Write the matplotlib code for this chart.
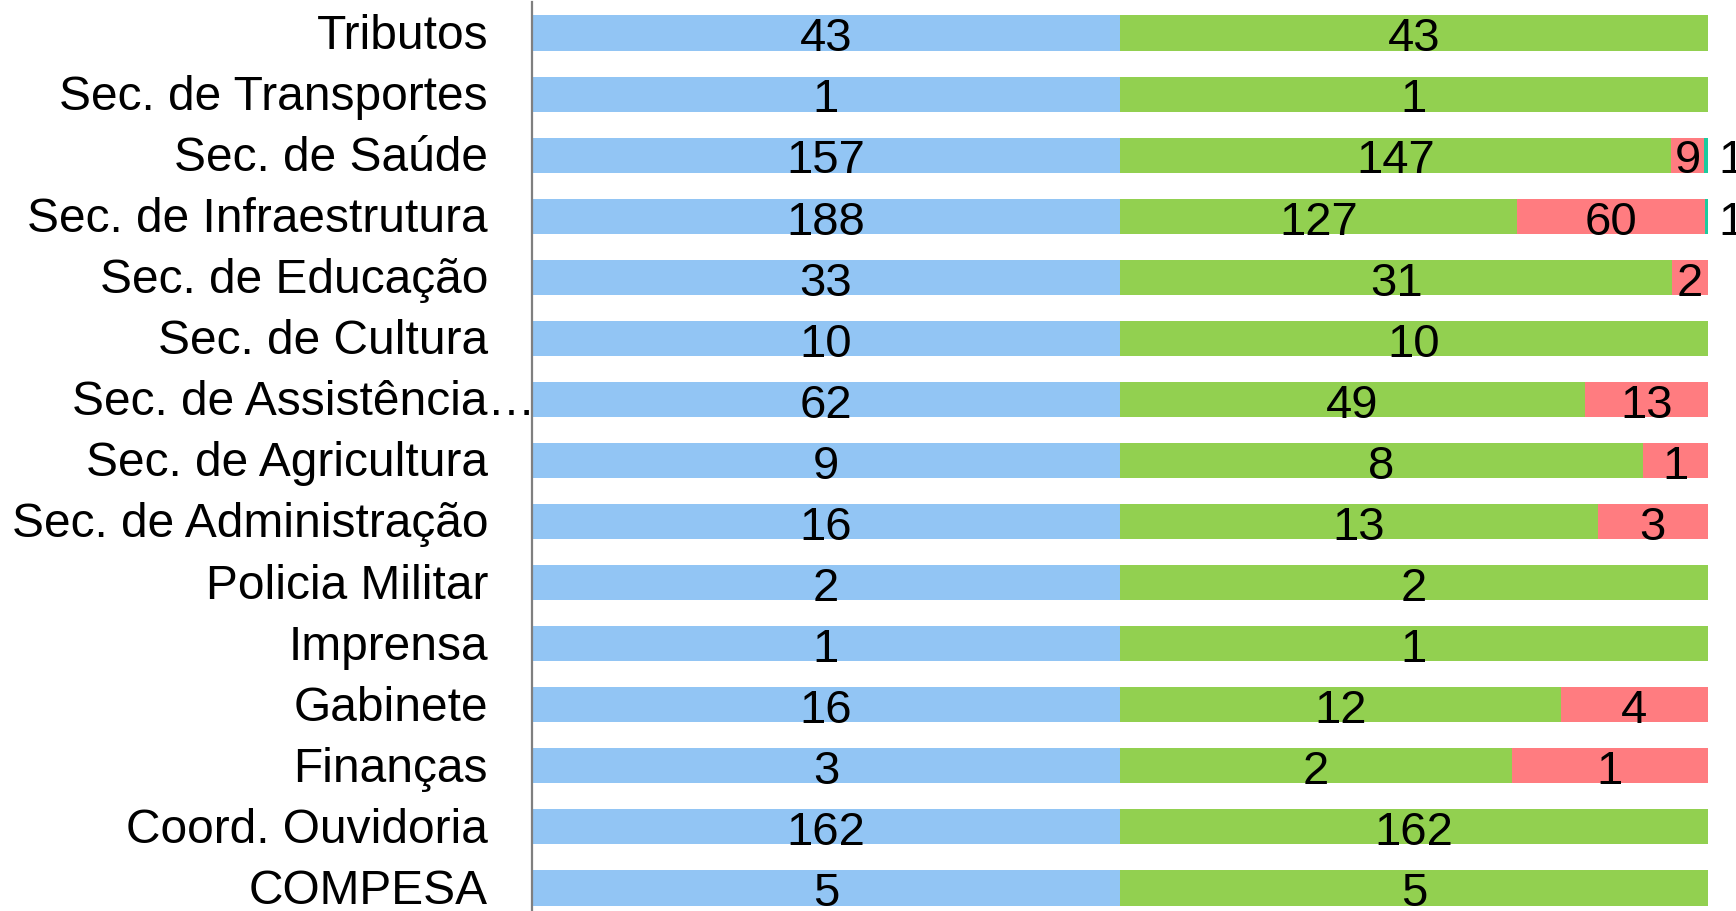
import matplotlib
matplotlib.use("Agg")
import matplotlib.pyplot as plt
import numpy as np

categories = ["Tributos", "Sec. de Transportes", "Sec. de Saúde", "Sec. de Infraestrutura",
              "Sec. de Educação", "Sec. de Cultura", "Sec. de Assistência…", "Sec. de Agricultura",
              "Sec. de Administração", "Policia Militar", "Imprensa", "Gabinete", "Finanças",
              "Coord. Ouvidoria", "COMPESA"]
total        = [43, 1, 157, 188, 33, 10, 62, 9, 16, 2, 1, 16, 3, 162, 5]
respondidas  = [43, 1, 147, 127, 31, 10, 49, 8, 13, 2, 1, 12, 2, 162, 5]
nao_resp     = [0, 0, 9, 60, 2, 0, 13, 1, 3, 0, 0, 4, 1, 0, 0]
outros       = [0, 0, 1, 1, 0, 0, 0, 0, 0, 0, 0, 0, 0, 0, 0]

colors = ["#92C5F4", "#92D050", "#FF7C80", "#1BCB9E"]
series = [total, respondidas, nao_resp, outros]

plt.rcParams['font.family'] = ['Liberation Sans', 'DejaVu Sans']

W, H = 1736, 911
fig = plt.figure(figsize=(W/100, H/100), dpi=100)
fig.patch.set_facecolor("white")
top = 1 - 2.5/H
hgt = 916/H
ax = fig.add_axes([532/W, top - hgt, 1176/W, hgt])
ax.set_facecolor("none")

n = len(categories)
y = np.arange(n)
arr = np.array(series, dtype=float)
sums = arr.sum(axis=0)
frac = arr / sums

left = np.zeros(n)
for k in range(4):
    ax.barh(y, frac[k], left=left, height=0.575, color=colors[k], linewidth=0)
    for i in range(n):
        v = series[k][i]
        if v == 0:
            continue
        if k == 3:
            xpos = left[i] + frac[k][i] + 10/1176
            ha = "left"
        else:
            xpos = left[i] + frac[k][i] / 2
            ha = "center"
        ax.text(xpos, y[i] + 0.30, str(v), ha=ha, va="baseline",
                fontsize=34, color="black", clip_on=False)
    left = left + frac[k]

ax.set_xlim(0, 1)
ax.set_ylim(n - 0.5, -0.5)
ax.set_xticks([])
ax.set_yticks([])
for s in ["top", "right", "bottom"]:
    ax.spines[s].set_visible(False)
ax.spines["left"].set_color("#7F7F7F")
ax.spines["left"].set_linewidth(1.6)

trans = ax.get_yaxis_transform()
for i, c in enumerate(categories):
    xr = (488 - 532) / 1176
    if c.endswith("…"):
        xr = (535 - 532) / 1176
    ax.text(xr, y[i] + 0.26, c, ha="right", va="baseline", fontsize=34.5,
            color="black", transform=trans, clip_on=False)

fig.savefig("out.png", dpi=100, facecolor="white")
